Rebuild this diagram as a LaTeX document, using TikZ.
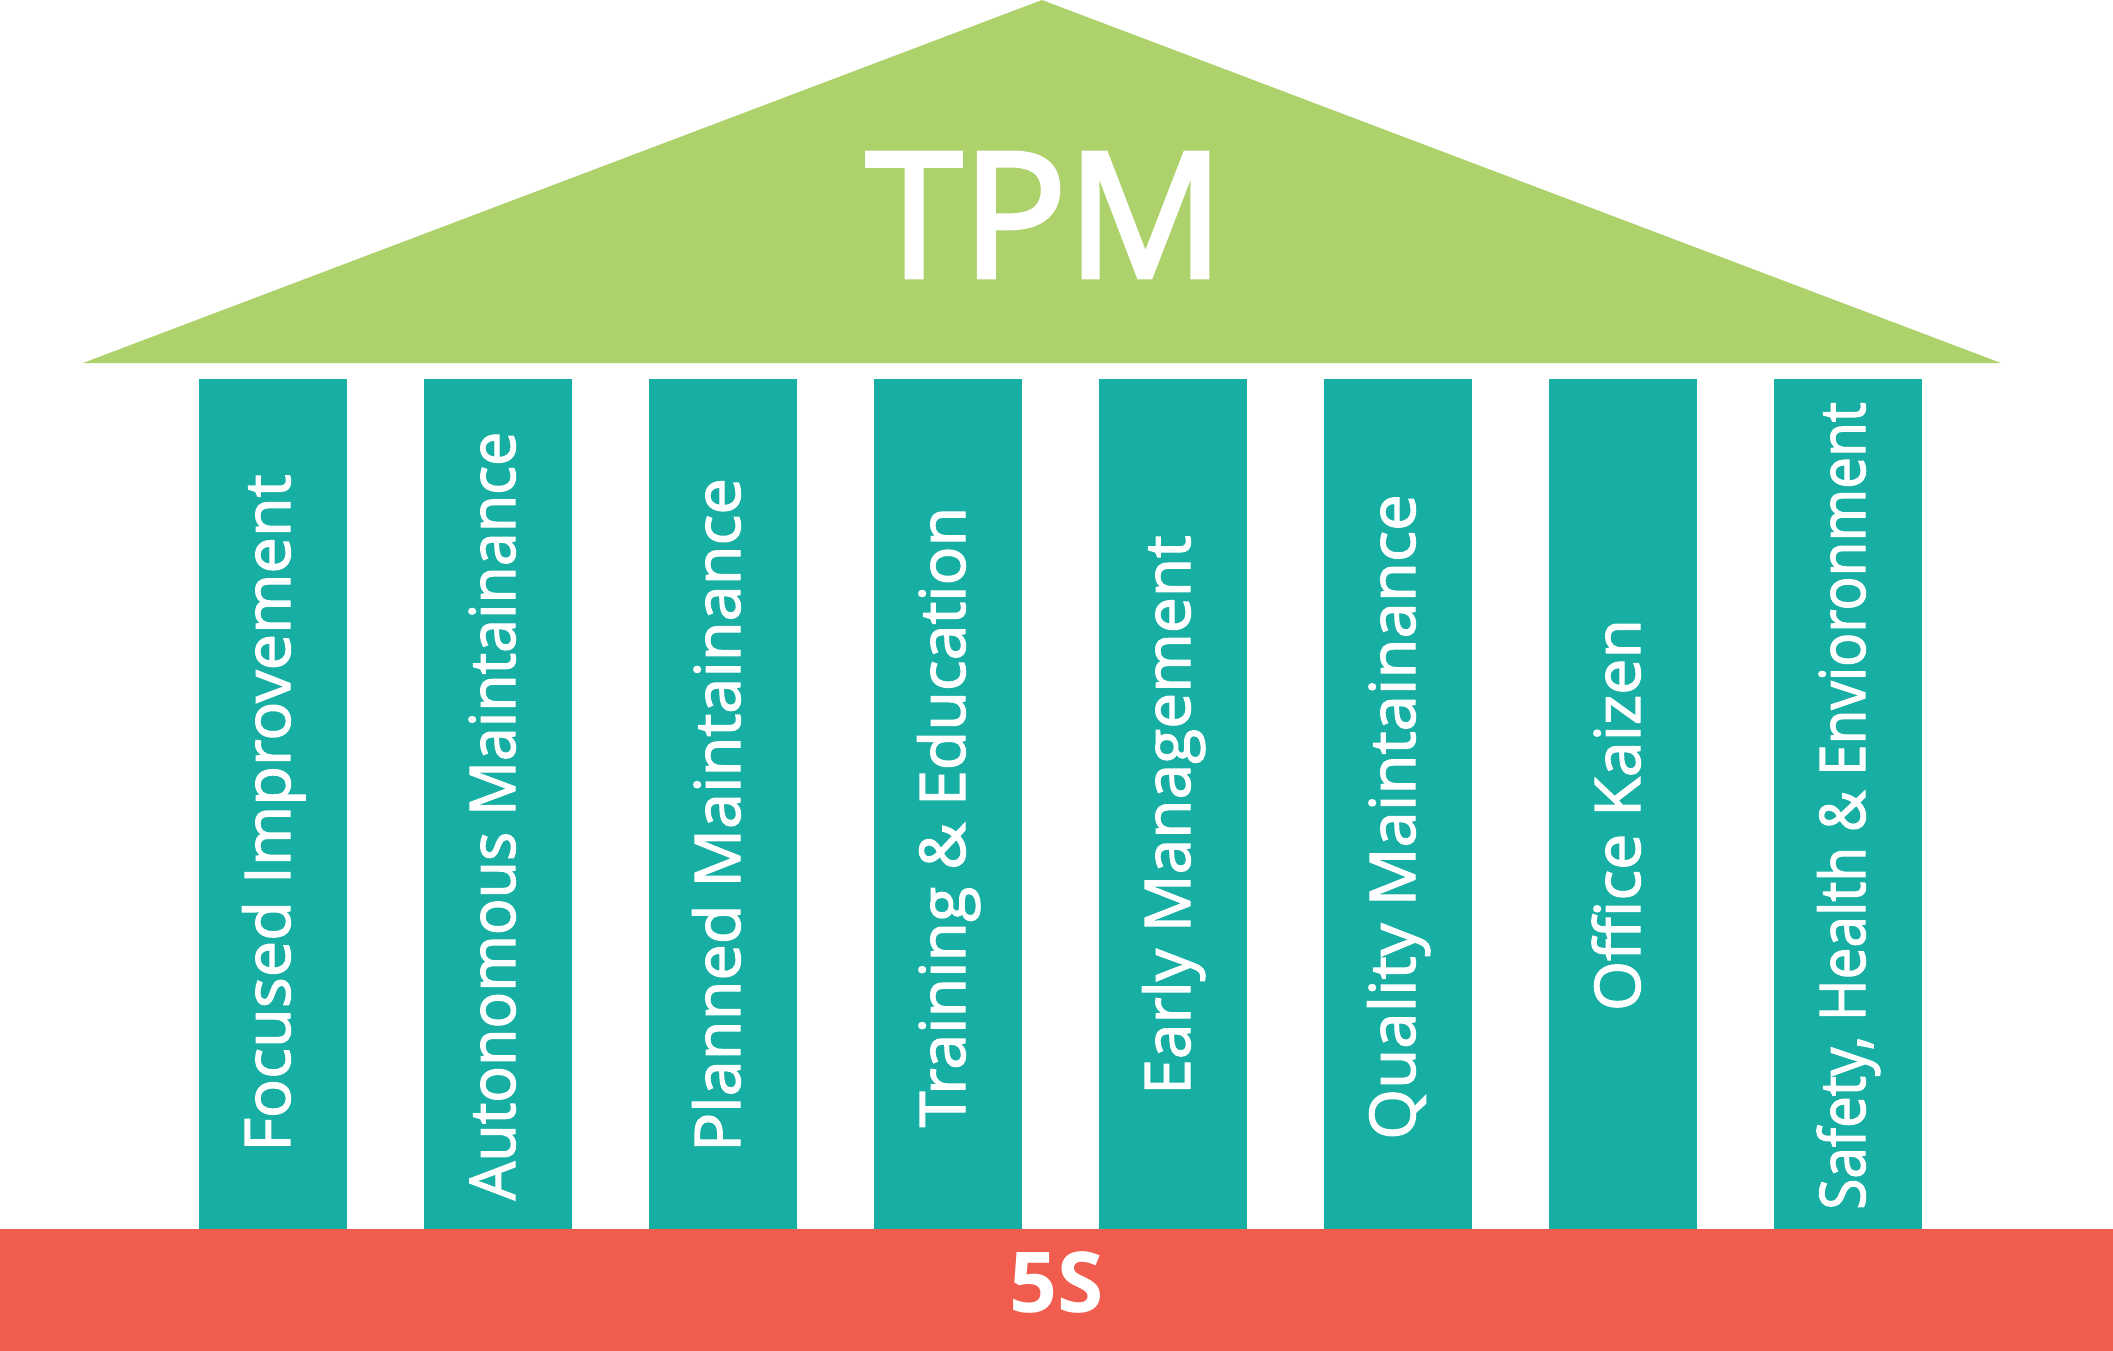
\documentclass[tikz,border=0pt]{standalone}
\usepackage{fontspec}
\setmainfont{Open Sans}
\definecolor{roofgreen}{RGB}{173,209,107}
\definecolor{pillarteal}{RGB}{23,175,163}
\definecolor{basered}{RGB}{240,93,78}
\tikzset{
  pillarbox/.style={fill=pillarteal, draw=none},
  pillartext/.style={text=white, rotate=90, anchor=base, inner sep=0pt,
    font=\fontsize{63}{70}\selectfont\addfontfeature{FakeBold=2}},
}
\begin{document}
\begin{tikzpicture}[x=1pt,y=-1pt]
\useasboundingbox (0,0) rectangle (2113,1351);
% roof
\fill[roofgreen] (83,363) -- (1042,0) -- (2001,363) -- cycle;
\node[text=white, anchor=base, inner sep=0pt,
  font=\fontsize{174}{180}\selectfont\addfontfeature{FakeBold=2.6}] (tpm) at (1045,277) {TPM};
% pillars
\foreach \i/\s/\c/\t in {0/1.03/813/Focused Improvement,1/0.967/816/Autonomous Maintainance,2/1.03/815/Planned Maintainance,3/1.024/817/Training \& Education,4/1.017/815/Early Management,5/1.037/817/Quality Maintainance,6/1.025/815/Office Kaizen,7/0.90/806/{Safety, Health \& Envioronment}}{
  \fill[pillarbox] ({199+225*\i},379) rectangle ({347+225*\i},1229);
  \node[pillartext] (p\i) at ({273+225*\i+17},\c) {\scalebox{\s}[1]{\t}};
}
% base
\fill[basered] (0,1229) rectangle (2113,1351);
\node[text=white, anchor=base, inner sep=0pt,
  font=\fontsize{84}{90}\selectfont\bfseries] (fives) at (1057,1312) {5S};
\end{tikzpicture}
\end{document}
